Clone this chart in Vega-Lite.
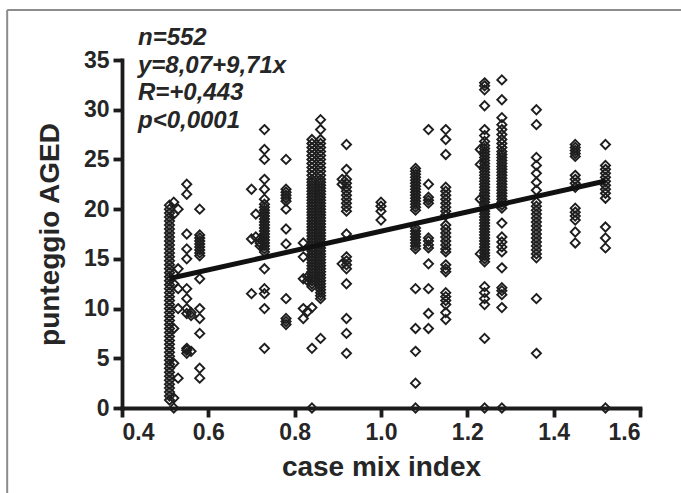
{
"$schema":"https://vega.github.io/schema/vega-lite/v6.json",
"width":518,"height":348,
"autosize":{"type":"none"},
"padding":{"left":122,"top":60,"right":41,"bottom":85},
"background":"#ffffff",
"config":{"font":"Liberation Sans","view":{"stroke":null},
"axis":{"domainWidth":3.8,"domainColor":"#1c1c1c","tickWidth":3.8,"tickColor":"#1c1c1c","tickSize":9,"labelFontSize":23,"labelFontWeight":"bold","labelColor":"#262626","labelPadding":4,"titleFontSize":28,"titleFontWeight":"bold","titleColor":"#262626","grid":false,"domainCap":"square","tickCap":"butt"}},
"datasets":{
"one":[{"k":1}],
"line":[{"x":0.51,"y":13.02},{"x":1.52,"y":22.83}],
"pts":[
{"x":0.51,"y":0.8},{"x":0.51,"y":1.2},{"x":0.51,"y":1.6},{"x":0.51,"y":2.0},{"x":0.51,"y":2.4},{"x":0.51,"y":2.8},{"x":0.51,"y":3.2},{"x":0.51,"y":3.6},{"x":0.51,"y":4.0},{"x":0.51,"y":4.4},{"x":0.51,"y":4.8},{"x":0.51,"y":5.2},{"x":0.51,"y":5.6},{"x":0.51,"y":6.0},{"x":0.51,"y":6.4},{"x":0.51,"y":6.8},{"x":0.51,"y":7.2},{"x":0.51,"y":7.6},{"x":0.51,"y":8.0},{"x":0.51,"y":8.4},{"x":0.51,"y":8.8},{"x":0.51,"y":9.2},{"x":0.51,"y":9.6},{"x":0.51,"y":10.0},{"x":0.51,"y":10.4},{"x":0.51,"y":10.8},{"x":0.51,"y":11.2},{"x":0.51,"y":11.6},{"x":0.51,"y":12.0},{"x":0.51,"y":12.4},{"x":0.51,"y":12.8},{"x":0.51,"y":13.2},{"x":0.51,"y":13.6},{"x":0.51,"y":14.0},{"x":0.51,"y":14.4},{"x":0.51,"y":14.8},{"x":0.51,"y":15.2},{"x":0.51,"y":15.6},{"x":0.51,"y":16.0},{"x":0.51,"y":16.4},{"x":0.51,"y":16.8},{"x":0.51,"y":17.2},{"x":0.51,"y":17.6},{"x":0.51,"y":18.0},{"x":0.51,"y":18.4},{"x":0.51,"y":18.8},{"x":0.51,"y":19.2},{"x":0.51,"y":19.6},{"x":0.51,"y":20.0},{"x":0.51,"y":20.4},
{"x":0.52,"y":0},{"x":0.52,"y":1.0},{"x":0.52,"y":4.5},{"x":0.52,"y":8.0},{"x":0.52,"y":12.5},{"x":0.52,"y":13.5},{"x":0.52,"y":19.5},{"x":0.52,"y":20.7},
{"x":0.53,"y":20.0},{"x":0.53,"y":14.0},{"x":0.53,"y":12.0},{"x":0.53,"y":10.0},{"x":0.53,"y":3.0},
{"x":0.55,"y":22.5},{"x":0.55,"y":21.5},{"x":0.55,"y":17.5},{"x":0.55,"y":16.0},{"x":0.55,"y":15.0},{"x":0.55,"y":12.0},{"x":0.55,"y":11.0},{"x":0.55,"y":10.0},{"x":0.55,"y":9.5},{"x":0.55,"y":6.0},{"x":0.55,"y":5.8},{"x":0.55,"y":5.5},
{"x":0.56,"y":9.6},{"x":0.56,"y":9.3},{"x":0.56,"y":5.7},
{"x":0.58,"y":20.0},{"x":0.58,"y":17.4},{"x":0.58,"y":17.1},{"x":0.58,"y":16.8},{"x":0.58,"y":16.5},{"x":0.58,"y":16.2},{"x":0.58,"y":15.9},{"x":0.58,"y":15.6},{"x":0.58,"y":15.3},{"x":0.58,"y":13.0},{"x":0.58,"y":10.0},{"x":0.58,"y":9.0},{"x":0.58,"y":7.5},{"x":0.58,"y":4.0},{"x":0.58,"y":3.0},
{"x":0.70,"y":22.0},{"x":0.70,"y":17.0},{"x":0.70,"y":11.5},
{"x":0.71,"y":19.5},{"x":0.71,"y":17.2},
{"x":0.72,"y":17.0},{"x":0.72,"y":16.6},{"x":0.72,"y":16.3},
{"x":0.73,"y":28.0},{"x":0.73,"y":26.0},{"x":0.73,"y":25.0},{"x":0.73,"y":23.0},{"x":0.73,"y":22.0},{"x":0.73,"y":21.0},{"x":0.73,"y":20.5},{"x":0.73,"y":20.2},{"x":0.73,"y":19.9},{"x":0.73,"y":19.6},{"x":0.73,"y":19.3},{"x":0.73,"y":19.0},{"x":0.73,"y":18.7},{"x":0.73,"y":18.4},{"x":0.73,"y":18.1},{"x":0.73,"y":17.8},{"x":0.73,"y":17.5},{"x":0.73,"y":17.2},{"x":0.73,"y":16.9},{"x":0.73,"y":16.6},{"x":0.73,"y":16.3},{"x":0.73,"y":16.0},{"x":0.73,"y":15.7},{"x":0.73,"y":14.0},{"x":0.73,"y":12.0},{"x":0.73,"y":11.5},{"x":0.73,"y":10.0},{"x":0.73,"y":6.0},
{"x":0.78,"y":25.0},{"x":0.78,"y":22.0},{"x":0.78,"y":21.7},{"x":0.78,"y":21.4},{"x":0.78,"y":21.1},{"x":0.78,"y":20.8},{"x":0.78,"y":20.0},{"x":0.78,"y":18.0},{"x":0.78,"y":16.5},{"x":0.78,"y":11.0},{"x":0.78,"y":9.0},{"x":0.78,"y":8.7},{"x":0.78,"y":8.4},
{"x":0.82,"y":16.6},{"x":0.82,"y":15.2},{"x":0.82,"y":13.0},{"x":0.82,"y":10.0},{"x":0.82,"y":9.0},
{"x":0.83,"y":13.2},{"x":0.83,"y":12.8},{"x":0.83,"y":9.7},
{"x":0.84,"y":0},{"x":0.84,"y":6.0},{"x":0.84,"y":10.1},{"x":0.84,"y":12.2},{"x":0.84,"y":12.5},{"x":0.84,"y":12.8},{"x":0.84,"y":13.1},{"x":0.84,"y":13.4},{"x":0.84,"y":13.7},{"x":0.84,"y":14.0},{"x":0.84,"y":14.3},{"x":0.84,"y":14.6},{"x":0.84,"y":14.9},{"x":0.84,"y":15.2},{"x":0.84,"y":15.5},{"x":0.84,"y":15.8},{"x":0.84,"y":16.1},{"x":0.84,"y":16.4},{"x":0.84,"y":16.7},{"x":0.84,"y":17.0},{"x":0.84,"y":17.3},{"x":0.84,"y":17.6},{"x":0.84,"y":17.9},{"x":0.84,"y":18.2},{"x":0.84,"y":18.5},{"x":0.84,"y":18.8},{"x":0.84,"y":19.1},{"x":0.84,"y":19.4},{"x":0.84,"y":19.7},{"x":0.84,"y":20.0},{"x":0.84,"y":20.3},{"x":0.84,"y":20.6},{"x":0.84,"y":20.9},{"x":0.84,"y":21.2},{"x":0.84,"y":21.5},{"x":0.84,"y":21.8},{"x":0.84,"y":22.1},{"x":0.84,"y":22.4},{"x":0.84,"y":22.7},{"x":0.84,"y":23.0},{"x":0.84,"y":23.4},{"x":0.84,"y":23.8},{"x":0.84,"y":24.2},{"x":0.84,"y":24.6},{"x":0.84,"y":25.0},{"x":0.84,"y":25.4},{"x":0.84,"y":25.8},{"x":0.84,"y":26.2},{"x":0.84,"y":26.6},{"x":0.84,"y":27.0},
{"x":0.86,"y":7.0},{"x":0.86,"y":11.0},{"x":0.86,"y":11.3},{"x":0.86,"y":11.6},{"x":0.86,"y":11.9},{"x":0.86,"y":12.2},{"x":0.86,"y":12.5},{"x":0.86,"y":12.8},{"x":0.86,"y":13.1},{"x":0.86,"y":13.4},{"x":0.86,"y":13.7},{"x":0.86,"y":14.0},{"x":0.86,"y":14.3},{"x":0.86,"y":14.6},{"x":0.86,"y":14.9},{"x":0.86,"y":15.2},{"x":0.86,"y":15.5},{"x":0.86,"y":15.8},{"x":0.86,"y":16.1},{"x":0.86,"y":16.4},{"x":0.86,"y":16.7},{"x":0.86,"y":17.0},{"x":0.86,"y":17.3},{"x":0.86,"y":17.6},{"x":0.86,"y":17.9},{"x":0.86,"y":18.2},{"x":0.86,"y":18.5},{"x":0.86,"y":18.8},{"x":0.86,"y":19.1},{"x":0.86,"y":19.4},{"x":0.86,"y":19.7},{"x":0.86,"y":20.0},{"x":0.86,"y":20.3},{"x":0.86,"y":20.6},{"x":0.86,"y":20.9},{"x":0.86,"y":21.2},{"x":0.86,"y":21.5},{"x":0.86,"y":21.8},{"x":0.86,"y":22.1},{"x":0.86,"y":22.4},{"x":0.86,"y":22.7},{"x":0.86,"y":23.0},{"x":0.86,"y":23.4},{"x":0.86,"y":23.8},{"x":0.86,"y":24.2},{"x":0.86,"y":24.6},{"x":0.86,"y":25.0},{"x":0.86,"y":25.4},{"x":0.86,"y":25.8},{"x":0.86,"y":26.2},{"x":0.86,"y":26.6},{"x":0.86,"y":27.0},{"x":0.86,"y":28.0},{"x":0.86,"y":29.0},
{"x":0.91,"y":23.0},{"x":0.91,"y":22.5},{"x":0.91,"y":14.5},
{"x":0.92,"y":26.5},{"x":0.92,"y":24.0},{"x":0.92,"y":23.0},{"x":0.92,"y":22.6},{"x":0.92,"y":22.2},{"x":0.92,"y":21.8},{"x":0.92,"y":21.4},{"x":0.92,"y":21.0},{"x":0.92,"y":20.6},{"x":0.92,"y":20.2},{"x":0.92,"y":19.8},{"x":0.92,"y":17.5},{"x":0.92,"y":15.2},{"x":0.92,"y":14.8},{"x":0.92,"y":14.4},{"x":0.92,"y":14.0},{"x":0.92,"y":12.5},{"x":0.92,"y":9.0},{"x":0.92,"y":7.5},{"x":0.92,"y":5.5},
{"x":1.0,"y":20.7},{"x":1.0,"y":20.3},{"x":1.0,"y":19.8},{"x":1.0,"y":18.9},
{"x":1.08,"y":0},{"x":1.08,"y":2.5},{"x":1.08,"y":5.7},{"x":1.08,"y":8.0},{"x":1.08,"y":12.0},{"x":1.08,"y":16.0},{"x":1.08,"y":16.3},{"x":1.08,"y":16.6},{"x":1.08,"y":16.9},{"x":1.08,"y":17.2},{"x":1.08,"y":17.5},{"x":1.08,"y":17.8},{"x":1.08,"y":18.1},{"x":1.08,"y":19.9},{"x":1.08,"y":20.2},{"x":1.08,"y":20.5},{"x":1.08,"y":20.8},{"x":1.08,"y":21.1},{"x":1.08,"y":21.4},{"x":1.08,"y":21.7},{"x":1.08,"y":22.0},{"x":1.08,"y":22.3},{"x":1.08,"y":22.6},{"x":1.08,"y":22.9},{"x":1.08,"y":23.2},{"x":1.08,"y":23.5},{"x":1.08,"y":23.8},{"x":1.08,"y":24.1},
{"x":1.11,"y":28.0},{"x":1.11,"y":22.5},{"x":1.11,"y":21.2},{"x":1.11,"y":20.9},{"x":1.11,"y":20.6},{"x":1.11,"y":17.1},{"x":1.11,"y":16.8},{"x":1.11,"y":16.4},{"x":1.11,"y":16.1},{"x":1.11,"y":14.5},{"x":1.11,"y":12.0},{"x":1.11,"y":9.5},{"x":1.11,"y":8.0},
{"x":1.15,"y":28.0},{"x":1.15,"y":27.0},{"x":1.15,"y":25.5},{"x":1.15,"y":22.2},{"x":1.15,"y":21.8},{"x":1.15,"y":21.4},{"x":1.15,"y":21.0},{"x":1.15,"y":20.6},{"x":1.15,"y":20.2},{"x":1.15,"y":19.8},{"x":1.15,"y":19.4},{"x":1.15,"y":18.4},{"x":1.15,"y":18.0},{"x":1.15,"y":17.6},{"x":1.15,"y":17.2},{"x":1.15,"y":16.8},{"x":1.15,"y":16.4},{"x":1.15,"y":16.0},{"x":1.15,"y":15.7},{"x":1.15,"y":14.4},{"x":1.15,"y":14.0},{"x":1.15,"y":13.7},{"x":1.15,"y":11.6},{"x":1.15,"y":11.2},{"x":1.15,"y":10.8},{"x":1.15,"y":10.4},{"x":1.15,"y":9.6},{"x":1.15,"y":8.9},
{"x":1.23,"y":26.0},{"x":1.23,"y":24.5},{"x":1.23,"y":21.0},{"x":1.23,"y":15.5},
{"x":1.24,"y":0},{"x":1.24,"y":7.0},{"x":1.24,"y":10.4},{"x":1.24,"y":11.0},{"x":1.24,"y":11.6},{"x":1.24,"y":12.2},{"x":1.24,"y":14.7},{"x":1.24,"y":15.0},{"x":1.24,"y":15.3},{"x":1.24,"y":15.6},{"x":1.24,"y":15.9},{"x":1.24,"y":16.2},{"x":1.24,"y":16.5},{"x":1.24,"y":16.8},{"x":1.24,"y":17.1},{"x":1.24,"y":17.4},{"x":1.24,"y":17.7},{"x":1.24,"y":18.0},{"x":1.24,"y":18.3},{"x":1.24,"y":18.6},{"x":1.24,"y":18.9},{"x":1.24,"y":19.2},{"x":1.24,"y":19.5},{"x":1.24,"y":19.8},{"x":1.24,"y":20.1},{"x":1.24,"y":20.4},{"x":1.24,"y":20.7},{"x":1.24,"y":21.0},{"x":1.24,"y":21.3},{"x":1.24,"y":21.6},{"x":1.24,"y":21.9},{"x":1.24,"y":22.2},{"x":1.24,"y":22.5},{"x":1.24,"y":22.8},{"x":1.24,"y":23.1},{"x":1.24,"y":23.4},{"x":1.24,"y":23.7},{"x":1.24,"y":24.0},{"x":1.24,"y":24.3},{"x":1.24,"y":24.6},{"x":1.24,"y":24.9},{"x":1.24,"y":25.2},{"x":1.24,"y":25.5},{"x":1.24,"y":25.8},{"x":1.24,"y":26.1},{"x":1.24,"y":26.4},{"x":1.24,"y":26.8},{"x":1.24,"y":27.4},{"x":1.24,"y":28.0},{"x":1.24,"y":30.4},{"x":1.24,"y":32.0},{"x":1.24,"y":32.4},{"x":1.24,"y":32.7},
{"x":1.28,"y":0},{"x":1.28,"y":10.1},{"x":1.28,"y":11.4},{"x":1.28,"y":11.8},{"x":1.28,"y":12.1},{"x":1.28,"y":14.1},{"x":1.28,"y":15.7},{"x":1.28,"y":16.2},{"x":1.28,"y":16.7},{"x":1.28,"y":17.2},{"x":1.28,"y":18.6},{"x":1.28,"y":20.1},{"x":1.28,"y":20.4},{"x":1.28,"y":20.7},{"x":1.28,"y":21.0},{"x":1.28,"y":21.3},{"x":1.28,"y":21.6},{"x":1.28,"y":21.9},{"x":1.28,"y":22.2},{"x":1.28,"y":22.5},{"x":1.28,"y":22.8},{"x":1.28,"y":23.1},{"x":1.28,"y":23.4},{"x":1.28,"y":23.7},{"x":1.28,"y":24.0},{"x":1.28,"y":24.3},{"x":1.28,"y":24.6},{"x":1.28,"y":24.9},{"x":1.28,"y":25.2},{"x":1.28,"y":25.5},{"x":1.28,"y":25.8},{"x":1.28,"y":26.2},{"x":1.28,"y":26.6},{"x":1.28,"y":27.0},{"x":1.28,"y":27.5},{"x":1.28,"y":28.0},{"x":1.28,"y":28.5},{"x":1.28,"y":29.2},{"x":1.28,"y":31.0},{"x":1.28,"y":33.0},
{"x":1.36,"y":5.5},{"x":1.36,"y":11.0},{"x":1.36,"y":15.1},{"x":1.36,"y":15.5},{"x":1.36,"y":15.9},{"x":1.36,"y":16.3},{"x":1.36,"y":16.7},{"x":1.36,"y":17.1},{"x":1.36,"y":17.5},{"x":1.36,"y":17.9},{"x":1.36,"y":18.3},{"x":1.36,"y":18.7},{"x":1.36,"y":19.1},{"x":1.36,"y":19.5},{"x":1.36,"y":19.9},{"x":1.36,"y":20.3},{"x":1.36,"y":20.7},{"x":1.36,"y":21.9},{"x":1.36,"y":22.7},{"x":1.36,"y":23.6},{"x":1.36,"y":24.4},{"x":1.36,"y":25.2},{"x":1.36,"y":28.5},{"x":1.36,"y":30.0},
{"x":1.45,"y":16.6},{"x":1.45,"y":17.7},{"x":1.45,"y":18.9},{"x":1.45,"y":19.3},{"x":1.45,"y":19.7},{"x":1.45,"y":20.1},{"x":1.45,"y":22.2},{"x":1.45,"y":22.6},{"x":1.45,"y":23.0},{"x":1.45,"y":23.4},{"x":1.45,"y":25.3},{"x":1.45,"y":25.6},{"x":1.45,"y":25.9},{"x":1.45,"y":26.2},{"x":1.45,"y":26.5},
{"x":1.52,"y":0},{"x":1.52,"y":16.1},{"x":1.52,"y":17.1},{"x":1.52,"y":18.2},{"x":1.52,"y":21.1},{"x":1.52,"y":21.6},{"x":1.52,"y":22.0},{"x":1.52,"y":22.4},{"x":1.52,"y":22.8},{"x":1.52,"y":23.2},{"x":1.52,"y":23.6},{"x":1.52,"y":24.0},{"x":1.52,"y":24.4},{"x":1.52,"y":26.5}
]},
"layer":[
{"data":{"name":"one"},
 "mark":{"type":"rule","color":"#8c8c8c","strokeWidth":2,"clip":false},
 "encoding":{"x":{"datum":0.134,"type":"quantitative","scale":{"domain":[0.4,1.6],"nice":false,"zero":false}},"x2":{"datum":1.75},"y":{"datum":40.03,"type":"quantitative","scale":{"domain":[0,35],"nice":false}}}},
{"data":{"name":"one"},
 "mark":{"type":"rule","color":"#8c8c8c","strokeWidth":2,"clip":false},
 "encoding":{"x":{"datum":0.134,"type":"quantitative"},"y":{"datum":40.03,"type":"quantitative"},"y2":{"datum":-10}}},
{"data":{"name":"pts"},
 "mark":{"type":"point","shape":"M0,-1L1,0L0,1L-1,0Z","filled":false,"size":84,"stroke":"#1e1e1e","strokeWidth":1.9,"opacity":1},
 "encoding":{
  "x":{"field":"x","type":"quantitative","scale":{"domain":[0.4,1.6],"nice":false,"zero":false},
   "axis":{"title":"case mix index","values":[0.4,0.6,0.8,1.0,1.2,1.4,1.6],"format":".1f","titlePadding":9}},
  "y":{"field":"y","type":"quantitative","scale":{"domain":[0,35],"nice":false},
   "axis":{"title":"punteggio AGED","values":[0,5,10,15,20,25,30,35],"titlePadding":19}}}},
{"data":{"name":"line"},
 "mark":{"type":"line","color":"#111111","strokeWidth":5},
 "encoding":{"x":{"field":"x","type":"quantitative"},"y":{"field":"y","type":"quantitative"}}},
{"data":{"name":"one"},
 "mark":{"type":"text","align":"left","baseline":"alphabetic","fontSize":24,"fontWeight":"bold","fontStyle":"italic","color":"#262626","lineHeight":27.7},
 "encoding":{"x":{"datum":0.437,"type":"quantitative"},"y":{"datum":36.5,"type":"quantitative"},
  "text":{"value":["n=552","y=8,07+9,71x","R=+0,443","p<0,0001"]}}}
]
}
